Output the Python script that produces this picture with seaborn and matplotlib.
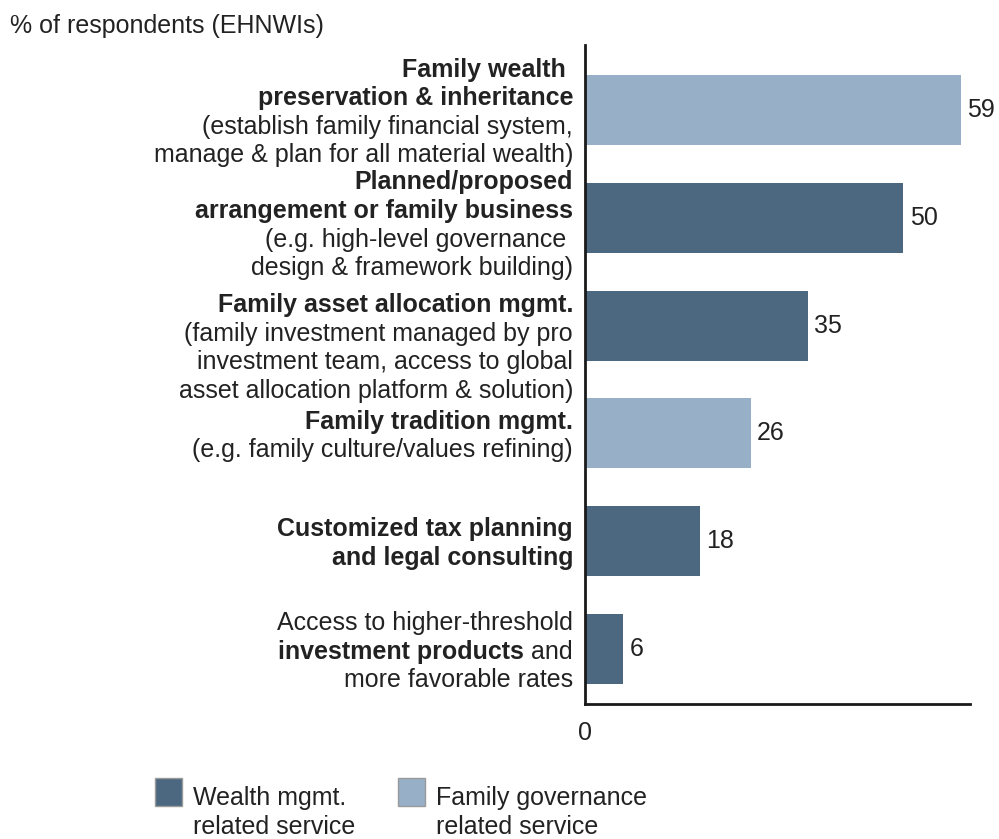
import matplotlib
matplotlib.use("Agg")
import matplotlib.pyplot as plt
import matplotlib.transforms as mtransforms
from matplotlib.patches import Rectangle
import seaborn as sns
import pandas as pd

# ---- data -------------------------------------------------------------
services = [
    "Family wealth preservation & inheritance",
    "Planned/proposed arrangement or family business",
    "Family asset allocation mgmt.",
    "Family tradition mgmt.",
    "Customized tax planning and legal consulting",
    "Access to higher-threshold investment products",
]
pct = [59, 50, 35, 26, 18, 6]
groups = [
    "Family governance related service",
    "Wealth mgmt. related service",
    "Wealth mgmt. related service",
    "Family governance related service",
    "Wealth mgmt. related service",
    "Wealth mgmt. related service",
]
legend_keys = ["Wealth mgmt. related service", "Family governance related service"]
legend_lines = [["Wealth mgmt.", "related service"], ["Family governance", "related service"]]
axis_title = "% of respondents (EHNWIs)"

# label lines: (text, bold?) ; a list inside marks a line with mixed weights
label_lines = [
    [("Family wealth ", True), ("preservation & inheritance", True),
     ("(establish family financial system,", False),
     ("manage & plan for all material wealth)", False)],
    [("Planned/proposed", True), ("arrangement or family business", True),
     ("(e.g. high-level governance ", False), ("design & framework building)", False)],
    [("Family asset allocation mgmt.", True), ("(family investment managed by pro", False),
     ("investment team, access to global", False),
     ("asset allocation platform & solution)", False)],
    [("Family tradition mgmt.", True), ("(e.g. family culture/values refining)", False)],
    [("Customized tax planning", True), ("and legal consulting", True)],
    [("Access to higher-threshold", False),
     [("investment products", True), (" and", False)],
     ("more favorable rates", False)],
]

# ---- style ------------------------------------------------------------
DARK = "#4c6880"
LIGHT = "#97b0c8"
TEXT = "#222222"
palette = {legend_keys[0]: DARK, legend_keys[1]: LIGHT}

sns.set_theme(style="white")
plt.rcParams["font.family"] = ["Liberation Sans", "DejaVu Sans"]
FS = 18

df = pd.DataFrame({"service": services, "pct": pct, "group": groups})

fig = plt.figure(figsize=(9.99, 8.39), dpi=100)
ax = fig.add_axes([585 / 999, 1 - 704 / 839, 385 / 999, 659 / 839])

sns.barplot(data=df, y="service", x="pct", hue="group", palette=palette,
            dodge=False, orient="h", width=0.65, legend=False, ax=ax,
            saturation=1, edgecolor="none", linewidth=0)

ax.set_xlim(0, 60.45)
ax.set_ylim(5.51, -0.603)
ax.set_xlabel("")
ax.set_ylabel("")
ax.set_yticks([])
ax.set_xticks([0])
ax.set_xticklabels(["0"], fontsize=FS, color=TEXT)
ax.tick_params(axis="x", length=0, pad=12)
for side in ("top", "right"):
    ax.spines[side].set_visible(False)
for side in ("left", "bottom"):
    ax.spines[side].set_color("#1a1a1a")
    ax.spines[side].set_linewidth(2)

# value labels
for i, v in enumerate(pct):
    ax.annotate(f"{v}", xy=(v, i), xytext=(4.5, 0), textcoords="offset points",
                ha="left", va="center", fontsize=FS, color=TEXT)

# category labels, drawn line by line to the left of the axis
fig.canvas.draw()
renderer = fig.canvas.get_renderer()
LINE = 28.6  # pixels between lines
nudges = [0, 5, 20, 0, 0, 0]
for i, lines in enumerate(label_lines):
    n = len(lines)
    for k, line in enumerate(lines):
        dy = -(k - (n - 1) / 2) * LINE - nudges[i]
        parts = line if isinstance(line, list) else [line]
        xoff = -12
        for txt, bold in reversed(parts):
            tr = mtransforms.offset_copy(ax.transData, fig=fig, x=xoff, y=dy, units="dots")
            t = ax.text(0, i, txt, transform=tr, ha="right", va="center_baseline",
                        fontsize=FS, color=TEXT,
                        fontweight="bold" if bold else "normal", clip_on=False)
            xoff -= t.get_window_extent(renderer).width

fig.text(10 / 999, 1 - 23 / 839, axis_title, ha="left", va="center_baseline",
         fontsize=FS, color=TEXT)

# legend
sq_w, sq_h = 27 / 999, 28 / 839
for (x0, key, lines) in [(155, legend_keys[0], legend_lines[0]),
                         (398, legend_keys[1], legend_lines[1])]:
    fig.patches.append(Rectangle((x0 / 999, 1 - 806 / 839), sq_w, sq_h,
                                 transform=fig.transFigure,
                                 facecolor=palette[key], edgecolor="#9a9a9a",
                                 linewidth=1))
    for k, txt in enumerate(lines):
        fig.text((x0 + 38) / 999, 1 - (796 + 28 * k) / 839, txt, ha="left",
                 va="center_baseline", fontsize=FS, color=TEXT)

fig.savefig("out.png", dpi=100)
